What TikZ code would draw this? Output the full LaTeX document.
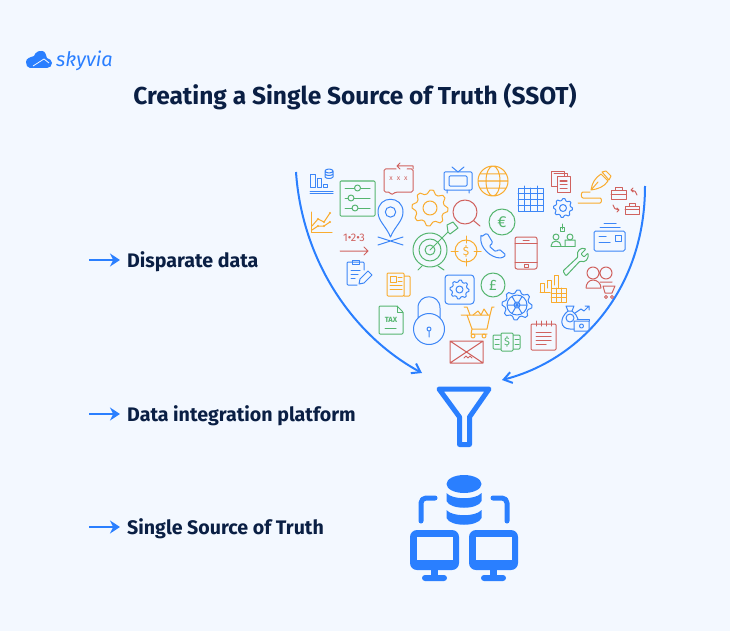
\documentclass[tikz,border=0pt]{standalone}
\usepackage{fontspec}
\setmainfont{Fira Sans}
\usepackage{tikz}
\usetikzlibrary{arrows.meta}

\definecolor{pagebg}{HTML}{F3F8FF}
\definecolor{navy}{HTML}{0A1F44}
\definecolor{skyblue}{HTML}{2A7FFF}
\definecolor{iconred}{HTML}{D0625F}
\definecolor{icongreen}{HTML}{55B56F}
\definecolor{iconorange}{HTML}{F9AC2F}
\definecolor{iconblue}{HTML}{3C86F7}

\tikzset{
	redline/.style={draw=iconred, line width=1pt, line join=round, line cap=round},
	greenline/.style={draw=icongreen, line width=1pt, line join=round, line cap=round},
	orangeline/.style={draw=iconorange, line width=1pt, line join=round, line cap=round},
	blueline/.style={draw=iconblue, line width=1pt, line join=round, line cap=round},
	bigarc/.style={draw=skyblue, line width=2pt, -{Straight Barb[length=8pt,width=11pt,line width=2pt]}},
	labelarrow/.style={draw=skyblue, line width=2.6pt, -{Stealth[length=10pt,width=13pt]}},
	rowlabel/.style={anchor=west, inner sep=0pt, text=navy, font=\fontsize{19.6}{22}\selectfont\bfseries},
	heavy/.style={draw=skyblue, line width=5pt, line join=round, line cap=round},
	solidblue/.style={fill=skyblue, draw=none}
}

% style, x, y, outer radius, inner radius, teeth
\newcommand{\gearicon}[6]{
	\draw[#1, shift={(#2,#3)}] plot[domain=0:360, samples=4*#6+1] (\x:{mod(round(\x/(90/#6)),4)<2 ? #4 : #4*0.8}) -- cycle;
	\draw[#1] (#2,#3) circle (#5);
}

\begin{document}
\begin{tikzpicture}[x=1pt, y=-1pt]
	\useasboundingbox[fill=pagebg] (0,0) rectangle (730,631);

	% Logo
	\fill[skyblue] (30,68) to[out=180,in=270] (26,62) to[out=90,in=200] (34,56) to[out=70,in=170] (42,51) to[out=0,in=110] (47,58) to[out=-20,in=90] (52,63) to[out=270,in=0] (47,68) -- cycle;
	\draw[pagebg, line width=0.8pt] (33,66) -- (44,59) -- (49,63);
	\node (logotext) at (56,61) [anchor=west, inner sep=0pt, text=skyblue, font=\fontsize{20}{22}\selectfont\itshape] {skyvia};

	% Title
	\node (title) at (355,97) [text=navy, inner sep=0pt, font=\fontsize{24.5}{28}\selectfont\bfseries] {Creating a Single Source of Truth (SSOT)};

	% Rows
	\node (rowdata) at (127,262) [rowlabel] {Disparate data};
	\node (rowplatform) at (127,416) [rowlabel] {Data integration platform};
	\node (rowtruth) at (127,529) [rowlabel] {Single Source of Truth};
	\coordinate (startdata) at (89,260);
	\coordinate (startplatform) at (89,414);
	\coordinate (starttruth) at (89,527);
	\draw[labelarrow] (startdata) -- ([xshift=-7pt]rowdata.west |- startdata);
	\draw[labelarrow] (startplatform) -- ([xshift=-7pt]rowplatform.west |- startplatform);
	\draw[labelarrow] (starttruth) -- ([xshift=-7pt]rowtruth.west |- starttruth);

	% Big arcs
	\coordinate (leftarc) at (296,172);
	\coordinate (leftend) at (422,373);
	\coordinate (rightarc) at (645,186);
	\coordinate (rightend) at (502,380);
	\draw[bigarc] (leftarc) .. controls (302,260) and (352,335) .. (leftend);
	\draw[bigarc] (rightarc) .. controls (645,290) and (580,360) .. (rightend);

	% Funnel
	\draw[heavy] (439,389) -- (489,389) -- (469.5,417) -- (469.5,444.5) -- (459.5,444.5) -- (459.5,417) -- cycle;

	% Database
	\fill[solidblue] (464,484) ellipse (17.5 and 9);
	\fill[solidblue] (446.5,493) .. controls (452,500) and (476,500) .. (481.5,493) -- (481.5,501) .. controls (478,510) and (450,510) .. (446.5,501) -- cycle;
	\fill[solidblue] (446.5,510) .. controls (452,517) and (476,517) .. (481.5,510) -- (481.5,518) .. controls (478,527) and (450,527) .. (446.5,518) -- cycle;
	\draw[heavy] (421,521) -- (421,503) to[out=90,in=180] (426,498) -- (435,498);
	\draw[heavy] (507,521) -- (507,503) to[out=90,in=0] (502,498) -- (493,498);

	% Monitors
	\foreach \mx in {410,469} {
		\fill[solidblue, rounded corners=7pt] (\mx,530) rectangle ++(49,40);
		\fill[pagebg] (\mx+7,537) rectangle ++(36,23);
		\fill[solidblue] (\mx+21,569) rectangle ++(7,8);
		\fill[solidblue, rounded corners=3pt] (\mx+12,575) rectangle ++(25,6);
	}

	% Bars and database
	\draw[blueline] (310,175) rectangle (315,187) (317,179) rectangle (321,187) (323,184) rectangle (327,187);
	\draw[blueline] (329,171) ellipse (4 and 2) (325,171) -- (325,177) .. controls (326,179) and (332,179) .. (333,177) -- (333,171) (325,174) .. controls (326,176) and (332,176) .. (333,174);
	\draw[blueline] (310,191) -- (333,191) (310,193) -- (333,193);

	% Sliders
	\draw[greenline, rounded corners=1pt] (340,181) rectangle (375,216);
	\draw[greenline] (345,188) -- (370,188) (345,198) -- (370,198) (345,208) -- (370,208);
	\draw[greenline, fill=pagebg] (357.5,188) circle (3) (351,198) circle (3) (355,208) circle (3);

	% Growth chart
	\draw[orangeline] (311,212) -- (311,232) -- (332,232);
	\draw[orangeline] (312,226) -- (318,219) -- (324,222) -- (330,213) (312,230) -- (318,226) -- (324,226) -- (330,222);
	\fill[iconorange] (318,219) circle (1.2) (324,222) circle (1.2) (330,213) circle (1.2) (318,226) circle (1.2) (324,226) circle (1.2) (330,222) circle (1.2);

	% Ordered arrow
	\node (orderlabel) at (354,237.5) [inner sep=0pt, text=iconred, font=\fontsize{11}{12}\selectfont] {1•2•3};
	\draw[redline] (340,251) -- (368,251) (364,247) -- (368,251) -- (364,255);

	% Chat
	\draw[redline, rounded corners=1.5pt] (396,169) -- (384,169) -- (384,192) -- (390,192) -- (391,195) -- (396,192) -- (413,192) -- (413,169) -- (407,169);
	\draw[redline] (413,169) -- (413,166) -- (397,166) (400,163) -- (397,166) -- (400,169);
	\node (chatdots) at (398.5,179) [inner sep=0pt, text=iconred, font=\fontsize{7}{7}\selectfont] {x\hspace{4pt}x\hspace{4pt}x};

	% Pin
	\draw[blueline] (390.5,237) .. controls (386,226) and (378,221) .. (378,212) .. controls (378,195) and (403,195) .. (403,212) .. controls (403,221) and (395,226) .. (390.5,237) -- cycle;
	\draw[blueline] (390.5,212) circle (5.2);
	\draw[blueline] (378,237) -- (403,245) (378,245) -- (403,237);

	% Gears
	\gearicon{orangeline}{430}{208}{18}{7}{8}
	\gearicon{blueline}{563}{208}{9.5}{3.5}{8}
	\draw[blueline, rounded corners=3pt] (445,275) rectangle (474,304);
	\gearicon{blueline}{459.5}{289.5}{9.5}{3.5}{8}

	% Magnifier
	\draw[redline] (465,212) circle (12) (474,221) -- (480,226);

	% Target
	\draw[greenline] (430,250) circle (17) (430,250) circle (11) (430,250) circle (5);
	\draw[greenline] (430,250) -- (448,232) (422,266) -- (418,270) (438,266) -- (444,270);
	\draw[greenline] (448,232) -- (447,225) -- (453,222) -- (458,228) -- (450,234) -- cycle;

	% Dollar crosshair
	\draw[orangeline] (466,251) circle (11);
	\draw[orangeline] (451,251) -- (458,251) (474,251) -- (481,251) (466,236) -- (466,243) (466,259) -- (466,266);
	\node (dollarsign) at (466,251) [inner sep=0pt, text=iconorange, font=\fontsize{12}{12}\selectfont] {\$};

	% Clipboard
	\draw[blueline, rounded corners=1pt] (364,270) -- (364,262) -- (347,262) -- (347,285) -- (357,285);
	\draw[blueline] (352,260) rectangle (359,264) (351,270) -- (360,270) (351,274) -- (358,274) (351,278) -- (355,278);
	\draw[blueline] (359,284) -- (360,279) -- (368,271) -- (372,275) -- (364,283) -- cycle;

	% Newspaper
	\draw[orangeline, rounded corners=1pt] (387,273) rectangle (404,296) (404,276) -- (410,276) -- (410,296) -- (404,296);
	\draw[orangeline] (390,276) rectangle (396,282) (398,277) -- (402,277) (398,281) -- (402,281) (390,285) -- (402,285) (390,289) -- (402,289);

	% Television
	\draw[blueline, rounded corners=1pt] (444,172) rectangle (472,190);
	\draw[blueline, rounded corners=1pt] (449,176) rectangle (467,186);
	\draw[blueline] (452,167) -- (458,172) -- (464,167) (447,190) -- (447,193) (469,190) -- (469,193);

	% Globe
	\draw[orangeline] (493,181) circle (15) (493,181) ellipse (7 and 15) (478,181) -- (508,181) (480,174) -- (506,174) (480,188) -- (506,188);

	% Euro
	\draw[greenline] (502,222) circle (13);
	\node (eurosign) at (502,222) [inner sep=0pt, text=icongreen, font=\fontsize{16}{16}\selectfont] {€};

	% Phone
	\draw[blueline, rounded corners=1.5pt] (481,237) -- (487,233) -- (493,243) -- (489,246) -- (496,252) -- (499,249) -- (506,255) -- (502,258) .. controls (490,258) and (480,247) .. cycle;

	% Calendar
	\draw[blueline] (518,188) rectangle (543,211) (518,193) -- (543,193) (518,199) -- (543,199) (518,205) -- (543,205) (524,188) -- (524,211) (530.5,188) -- (530.5,211) (537,188) -- (537,211) (524,186) -- (524,190) (537,186) -- (537,190);

	% Stacked documents
	\draw[redline] (551,172) rectangle (564,186) (554,174) -- (567,174) -- (567,176);
	\draw[redline, fill=pagebg] (557,177) rectangle (570,192);
	\draw[redline] (560,181) -- (567,181) (560,184) -- (567,184) (560,188) -- (567,188);

	% Pen and squiggle
	\draw[orangeline] (591,190) .. controls (592,183) and (595,178) .. (601,174) -- (608,181) .. controls (604,187) and (598,189) .. (591,190) -- cycle (591,190) -- (598,182) (602,172) -- (606,171) -- (611,176) -- (609,180) -- cycle;
	\draw[orangeline] (590,192) -- (583,192) to[out=180,in=180] (583,198) -- (600,198) to[out=0,in=0] (600,203) -- (578,203);

	% Briefcases
	\draw[redline] (611,190) rectangle (626,199) (611,194) -- (626,194) (615,190) -- (615,187) -- (622,187) -- (622,190);
	\draw[redline] (625,206) rectangle (639,214) (625,209) -- (639,209) (629,206) -- (629,203) -- (635,203) -- (635,206);
	\draw[redline] (637,195) to[out=90,in=0] (631,190) (633,188) -- (631,190) -- (633,192);
	\draw[redline] (613,205) to[out=270,in=180] (619,210) (617,208) -- (619,210) -- (617,212);

	% People at desk
	\draw[greenline] (562,224) -- (562,229) (560,227) rectangle (564,231) (551,246) -- (575,246);
	\draw[greenline] (556,237) circle (3) (570,237) circle (3);
	\draw[greenline] (551,246) to[out=90,in=180] (556,241) to[out=0,in=90] (561,246) (565,246) -- (565,240) -- (575,240) -- (575,246);

	% Mailing card
	\draw[blueline, rounded corners=1.5pt] (594,231) rectangle (625,251);
	\draw[blueline] (600,227) -- (620,227) (604,223) -- (616,223) (615,235) rectangle (621,241) (599,236) -- (606,236) (599,242) -- (610,242);

	% Smartphone
	\draw[redline, rounded corners=2pt] (515,237) rectangle (537,269);
	\draw[redline] (515,243) -- (537,243) (515,262) -- (537,262) (523,240) -- (529,240) (524,264) rectangle (528,267);

	% Wrench
	\draw[greenline, rounded corners=1pt] (563,271) -- (578,257) .. controls (576,251) and (581,247) .. (586,249) -- (581,254) -- (584,257) -- (588,253) .. controls (589,259) and (585,263) .. (580,261) -- (566,276) -- cycle;

	% Shoppers
	\draw[redline] (593,273) circle (6) (606,273) circle (6);
	\draw[redline] (586,288) to[out=90,in=180] (593,280) to[out=0,in=90] (601,288) -- cycle;
	\draw[redline] (603,286) -- (615,286) -- (612,293) -- (605,293) -- (603,286) (606,297) circle (1.5) (612,297) circle (1.5) (600,282) to[out=0,in=180] (612,282);

	% Pound
	\draw[greenline] (493,285) circle (12);
	\node (poundsign) at (493,285) [inner sep=0pt, text=icongreen, font=\fontsize{15}{15}\selectfont] {£};

	% Wheel
	\gearicon{blueline}{517}{305}{15}{10}{8}
	\draw[blueline] (517,305) circle (3) (507,305) -- (527,305) (512,296.5) -- (522,313.5) (522,296.5) -- (512,313.5);

	% Bars and table
	\draw[orangeline] (540,292) -- (540,283) -- (544,283) -- (544,292) (540,292) -- (550,292) (547,288) -- (547,280) -- (551,280) -- (551,288) (554,285) -- (554,275) -- (558,275) -- (558,288);
	\draw[orangeline] (551,288) rectangle (566,302) (551,293) -- (566,293) (551,297) -- (566,297) (556,288) -- (556,302) (561,288) -- (561,302);

	% Money bag
	\draw[blueline] (568,311) -- (572,311) (566,306) -- (574,306) -- (572,311) (568,311) -- (566,306);
	\draw[blueline] (568,311) .. controls (559,318) and (560,329) .. (570,329) -- (574,329) (572,311) .. controls (575,313) and (577,316) .. (578,319);
	\draw[blueline] (570,318) circle (4);
	\draw[blueline] (574,321) rectangle (589,331) (581.5,326) circle (2);
	\draw[blueline] (577,319) -- (589,319) -- (589,321);
	\draw[blueline] (575,313) -- (581,309) -- (584,311) -- (589,306) (585,306) -- (589,306) -- (589,310);

	% Notepad
	\draw[redline, rounded corners=1pt] (531,324) rectangle (556,350);
	\draw[redline] (536,321) -- (536,326) (541,321) -- (541,326) (546,321) -- (546,326) (551,321) -- (551,326);
	\draw[redline] (536,332) -- (551,332) (536,336) -- (551,336) (536,340) -- (551,340) (536,344) -- (546,344);

	% Cash
	\draw[greenline, rounded corners=1pt] (493,335) rectangle (520,349);
	\draw[greenline, fill=pagebg, rounded corners=1pt] (501,333) rectangle (513,351);
	\draw[greenline] (495,339) -- (499,339) (495,344) -- (499,344) (515,339) -- (519,339) (515,344) -- (519,344);
	\node (cashsign) at (507,342) [inner sep=0pt, text=icongreen, font=\fontsize{11}{11}\selectfont] {\$};

	% Envelope
	\draw[redline] (450,341) rectangle (483,363) (450,341) -- (483,363) (483,341) -- (450,363);
	\draw[redline] (464,358) -- (466,356) -- (468,358) -- (470,356) -- (472,358);

	% Cart
	\draw[orangeline] (461,315) -- (467,315) -- (472,329) -- (487,329) -- (490,315) -- (467,315) (490,315) -- (492,307) -- (494,307) (472,329) -- (471,334) -- (487,334);
	\draw[orangeline] (473,336) circle (2) (484,336) circle (2);
	\draw[orangeline] (464,307) -- (467,307) -- (470,315) (473,315) -- (478,311) -- (481,315) (481,315) -- (484,309) -- (488,315);

	% Lock
	\draw[blueline] (429,329) circle (15.5) (418,318) -- (418,308) .. controls (418,293) and (440,293) .. (440,308) -- (440,318);
	\draw[blueline] (429,329) circle (2) (429,331) -- (429,337);

	% Tax form
	\draw[greenline, rounded corners=1pt] (379,306) -- (397,306) -- (403,312) -- (403,334) -- (379,334) -- cycle;
	\draw[greenline] (397,306) -- (397,312) -- (403,312) (385,328) -- (396,328);
	\node (taxlabel) at (391,319.5) [inner sep=0pt, text=icongreen, font=\fontsize{7.5}{8}\selectfont\bfseries] {TAX};

\end{tikzpicture}
\end{document}
